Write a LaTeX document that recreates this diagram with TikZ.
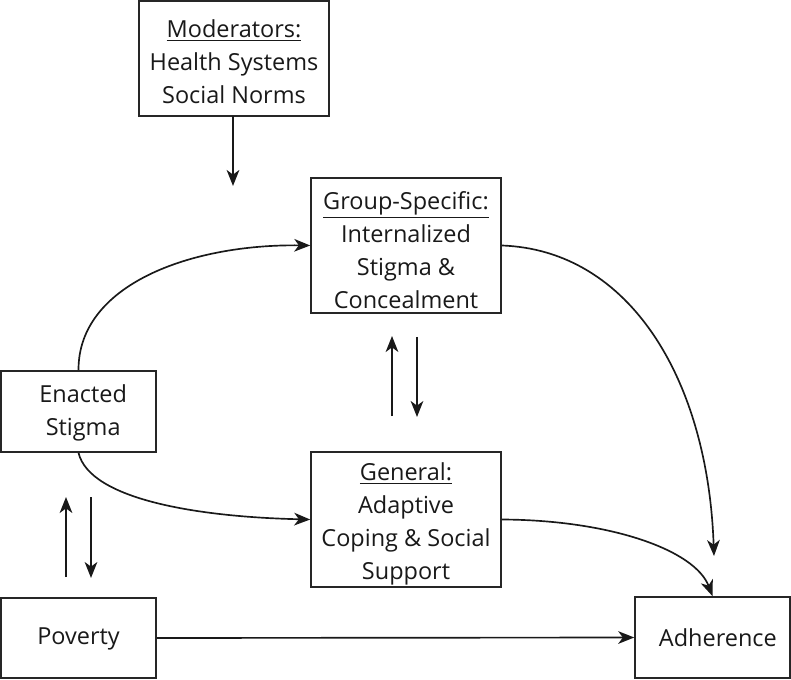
\documentclass[tikz,border=0pt]{standalone}
\usepackage{fontspec}
\setmainfont{Open Sans}
\usetikzlibrary{arrows.meta}
\begin{document}
\begin{tikzpicture}[x=0.75pt,y=-0.75pt,
  box/.style={draw=black!85, line width=1.2pt, fill=white, inner sep=0pt},
  txt/.style={align=center, inner sep=0pt, text=black!90,
    font=\fontsize{17.6}{24.75}\selectfont},
  arr/.style={draw=black!90, line width=1.25pt, -{Stealth[length=12pt,width=9.5pt,inset=3.5pt]}}]
\useasboundingbox (0,0) rectangle (791,680);
\node[box, minimum width=142.5pt, minimum height=86.25pt] (mod) at (234,58.5) {};
\node[box, minimum width=142.5pt, minimum height=101.25pt] (grp) at (406,245.5) {};
\node[box, minimum width=116.25pt, minimum height=60.75pt] (ens) at (78.5,411.5) {};
\node[box, minimum width=142.5pt, minimum height=101.25pt] (gen) at (406,519.5) {};
\node[box, minimum width=116.25pt, minimum height=60pt] (pov) at (78.5,638) {};
\node[box, minimum width=116.25pt, minimum height=60.75pt] (adh) at (712.5,637.5) {};
\node[txt] (modt) at ([yshift=-2.5pt]mod.center)
  {\underline{Moderators:}\\Health Systems\\Social Norms};
\node[txt] (grpt) at ([yshift=-3.5pt]grp.center)
  {\underline{Group-Specific:}\\Internalized\\Stigma \&\\Concealment};
\node[txt] (enst) at ([xshift=3.5pt,yshift=-1pt]ens.center) {Enacted\\Stigma};
\node[txt] (gent) at ([yshift=-3.5pt]gen.center)
  {\underline{General:}\\Adaptive\\Coping \& Social\\Support};
\node[txt] (povt) at ([yshift=-0.5pt]pov.center) {Poverty};
\node[txt] (adht) at ([xshift=4pt,yshift=-0.5pt]adh.center) {Adherence};
\coordinate (modend) at (233,186);
\coordinate (gup1) at (392,416);
\coordinate (gup2) at (392,336);
\coordinate (gdn1) at (417,337);
\coordinate (gdn2) at (417,417);
\coordinate (eup1) at (66,577);
\coordinate (eup2) at (66,497);
\coordinate (edn1) at (91,497);
\coordinate (edn2) at (91,578);
\coordinate (adhin) at (714,556);
\draw[arr] (233,116) -- (modend);
\draw[arr] (gup1) -- (gup2);
\draw[arr] (gdn1) -- (gdn2);
\draw[arr] (eup1) -- (eup2);
\draw[arr] (edn1) -- (edn2);
\draw[arr] (ens.north) .. controls (78,285) and (190,244) .. (grp.west);
\draw[arr] (ens.south) .. controls (90,500) and (200,517) .. (gen.west);
\draw[arr] (grp.east) .. controls (630,250) and (708,380) .. (adhin);
\draw[arr] (gen.east) .. controls (610,520) and (695,550) .. (adh.north);
\draw[arr] (pov.east) -- (adh.west);
\end{tikzpicture}
\end{document}
